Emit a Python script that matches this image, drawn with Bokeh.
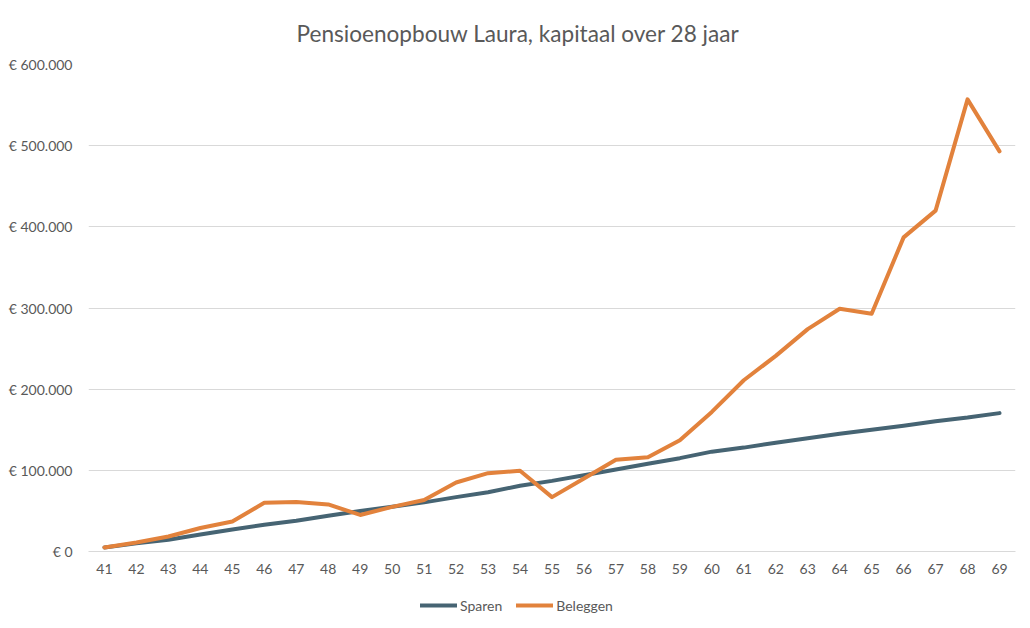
from bokeh.plotting import figure
from bokeh.layouts import column
from bokeh.models import Range1d, FixedTicker, Legend, LegendItem
from bokeh.embed import file_html
from bokeh.resources import INLINE

title_text = "Pensioenopbouw Laura, kapitaal over 28 jaar"
ages = [41, 42, 43, 44, 45, 46, 47, 48, 49, 50, 51, 52, 53, 54, 55,
        56, 57, 58, 59, 60, 61, 62, 63, 64, 65, 66, 67, 68, 69]
sparen = [5000, 10000, 14500, 21000, 27000, 33000, 38000, 44000, 50000, 55000,
          60500, 67000, 73000, 81000, 87000, 94000, 101000, 108000, 115000, 123000,
          128000, 134000, 139500, 145000, 150000, 155000, 160500, 165000, 170500]
beleggen = [5000, 11000, 18500, 29000, 37000, 60000, 61000, 58000, 45000, 55000,
            63500, 85000, 96500, 99500, 67000, 90000, 113000, 116000, 137000, 172000,
            211000, 241000, 274000, 299000, 293000, 387000, 420000, 557000, 493000]
y_ticks = [0, 100000, 200000, 300000, 400000, 500000, 600000]
y_labels = ["€ 0", "€ 100.000", "€ 200.000", "€ 300.000", "€ 400.000", "€ 500.000", "€ 600.000"]
series_names = ["Sparen", "Beleggen"]

FONT = "Lato"
GRAY = "#595959"
BLUE = "#466473"
ORANGE = "#E2823C"

p = figure(width=1030, height=590,
           x_range=Range1d(ages[0] - 0.5, ages[-1] + 0.5),
           y_range=Range1d(y_ticks[0], y_ticks[-1]),
           output_backend="svg", toolbar_location=None,
           min_border_left=88, min_border_right=15,
           min_border_top=64, min_border_bottom=39)

p.title.text = title_text
p.title.align = "left"
p.title.offset = 208
p.title.standoff = 35
p.title.text_font = FONT
p.title.text_font_size = "22.6px"
p.title.text_font_style = "normal"
p.title.text_color = GRAY

p.outline_line_color = None
p.background_fill_color = "white"
p.border_fill_color = "white"

# y axis
p.yaxis.ticker = FixedTicker(ticks=y_ticks)
p.yaxis.major_label_overrides = {t: l for t, l in zip(y_ticks, y_labels)}
p.yaxis.axis_line_color = None
p.yaxis.major_tick_line_color = None
p.yaxis.minor_tick_line_color = None
p.yaxis.major_label_text_font = FONT
p.yaxis.major_label_text_font_size = "14px"
p.yaxis.major_label_text_color = GRAY
p.yaxis.major_label_standoff = 10

# x axis
p.xaxis.ticker = FixedTicker(ticks=ages)
p.xaxis.axis_line_color = "#D9D9D9"
p.xaxis.major_tick_line_color = None
p.xaxis.minor_tick_line_color = None
p.xaxis.major_label_text_font = FONT
p.xaxis.major_label_text_font_size = "14px"
p.xaxis.major_label_text_color = GRAY
p.xaxis.major_label_standoff = 6

p.xgrid.grid_line_color = None
p.ygrid.grid_line_color = "#D9D9D9"
p.ygrid.grid_line_width = 1

p.line(ages, sparen, line_color=BLUE, line_width=4, line_join="round", line_cap="round")
p.line(ages, beleggen, line_color=ORANGE, line_width=4, line_join="round", line_cap="round")

# legend strip below the chart (dummy renderers outside the visible range)
pl = figure(width=1030, height=38, x_range=Range1d(0, 1), y_range=Range1d(0, 1),
            output_backend="svg", toolbar_location=None,
            x_axis_type=None, y_axis_type=None,
            min_border_left=0, min_border_right=0, min_border_top=0, min_border_bottom=0)
pl.outline_line_color = None
pl.xgrid.grid_line_color = None
pl.ygrid.grid_line_color = None
l1 = pl.line([5, 6], [5, 6], line_color=BLUE, line_width=4, line_cap="round")
l2 = pl.line([5, 6], [5, 6], line_color=ORANGE, line_width=4, line_cap="round")
legend = Legend(items=[LegendItem(label=series_names[0], renderers=[l1]),
                       LegendItem(label=series_names[1], renderers=[l2])],
                orientation="horizontal", location=(332, 13),
                border_line_color=None, background_fill_alpha=0,
                label_text_font=FONT, label_text_font_size="14px",
                label_text_color=GRAY, glyph_width=37, spacing=14,
                label_standoff=3, padding=2, margin=0)
pl.add_layout(legend, "center")

open("out.html", "w").write(file_html(column(p, pl, spacing=0), INLINE))
